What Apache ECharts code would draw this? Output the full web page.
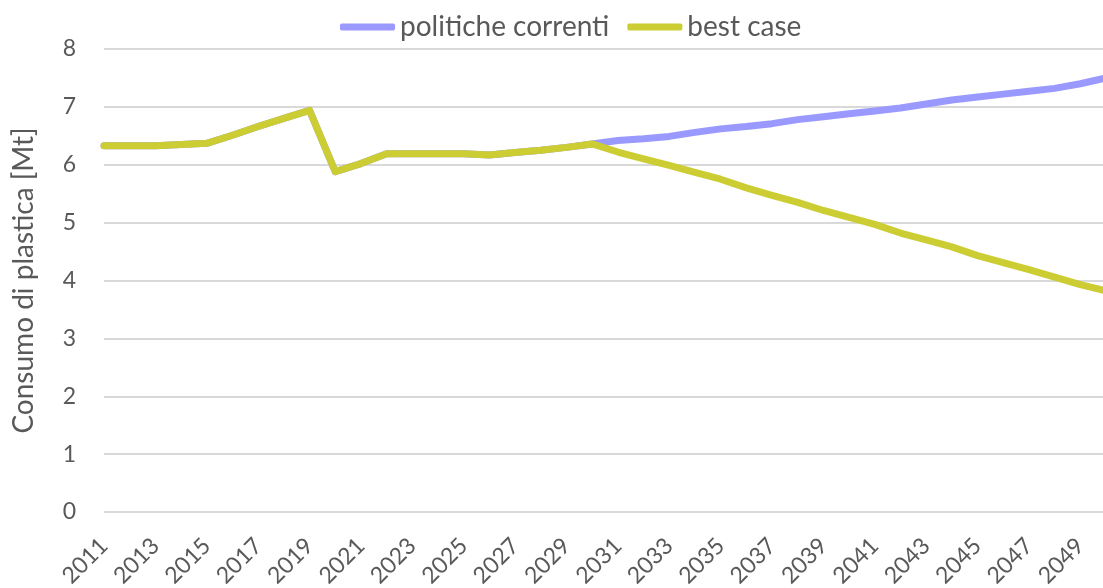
<!DOCTYPE html>
<html>
<head>
<meta charset="utf-8">
<script src="https://cdn.jsdelivr.net/npm/echarts@6/dist/echarts.min.js"></script>
<style>
  html, body { margin: 0; padding: 0; background: #ffffff; }
  #chart { width: 1103px; height: 588px; }
</style>
</head>
<body>
<div id="chart"></div>
<script>
// Years on the category axis
const years = [];
for (let y = 2011; y <= 2050; y++) years.push(String(y));

// Plastic consumption scenarios [Mt]
const politicheCorrenti = [
  6.33, 6.33, 6.33, 6.35, 6.37, 6.51, 6.66, 6.80, 6.94, 5.88,
  6.02, 6.19, 6.19, 6.19, 6.19, 6.17, 6.21, 6.25, 6.30, 6.36,
  6.42, 6.45, 6.49, 6.56, 6.62, 6.66, 6.71, 6.78, 6.83, 6.88,
  6.93, 6.98, 7.05, 7.12, 7.17, 7.22, 7.27, 7.32, 7.40, 7.50
];
const bestCase = [
  6.33, 6.33, 6.33, 6.35, 6.37, 6.51, 6.66, 6.80, 6.94, 5.88,
  6.02, 6.19, 6.19, 6.19, 6.19, 6.17, 6.21, 6.25, 6.30, 6.36,
  6.22, 6.10, 5.99, 5.87, 5.75, 5.60, 5.47, 5.35, 5.21, 5.09,
  4.97, 4.82, 4.70, 4.58, 4.43, 4.31, 4.19, 4.06, 3.93, 3.82
];

const seriesNames = ['politiche correnti', 'best case'];
const yAxisTitle = 'Consumo di plastica [Mt]';

const textColor = '#595959';
const fontFamily = 'Lato, "Open Sans", sans-serif';

const chart = echarts.init(document.getElementById('chart'));
chart.setOption({
  backgroundColor: '#ffffff',
  animation: false,
  textStyle: { fontFamily: fontFamily, color: textColor },
  legend: {
    top: 8,
    left: 335,
    itemWidth: 55,
    itemHeight: 7,
    itemGap: 18,
    icon: 'roundRect',
    textStyle: { fontSize: 28, color: textColor, fontFamily: fontFamily },
    data: seriesNames
  },
  grid: {
    left: 104, right: -3, top: 49, bottom: 76,
    containLabel: false,
    outerBoundsMode: 'none'
  },
  xAxis: {
    type: 'category',
    data: years,
    boundaryGap: false,
    axisLine: { show: false },
    axisTick: { show: false },
    axisLabel: {
      interval: 1,
      rotate: 45,
      margin: 30,
      fontSize: 23,
      color: textColor,
      fontFamily: fontFamily,
      hideOverlap: false
    },
    splitLine: { show: false }
  },
  yAxis: {
    type: 'value',
    min: 0,
    max: 8,
    interval: 1,
    name: yAxisTitle,
    nameLocation: 'middle',
    nameGap: 66,
    nameTextStyle: { fontSize: 28, color: textColor, fontFamily: fontFamily },
    axisLine: { show: false },
    axisTick: { show: false },
    axisLabel: { margin: 28, fontSize: 23, color: textColor, fontFamily: fontFamily },
    splitLine: { lineStyle: { color: '#d9d9d9', width: 2 } }
  },
  series: [
    {
      name: seriesNames[0],
      type: 'line',
      data: politicheCorrenti,
      symbol: 'none',
      color: '#9999ff',
      lineStyle: { width: 7, color: '#9999ff', cap: 'round', join: 'round' },
      z: 2
    },
    {
      name: seriesNames[1],
      type: 'line',
      data: bestCase,
      symbol: 'none',
      color: '#cccc33',
      lineStyle: { width: 7, color: '#cccc33', cap: 'round', join: 'round' },
      z: 3
    }
  ]
});
</script>
</body>
</html>
